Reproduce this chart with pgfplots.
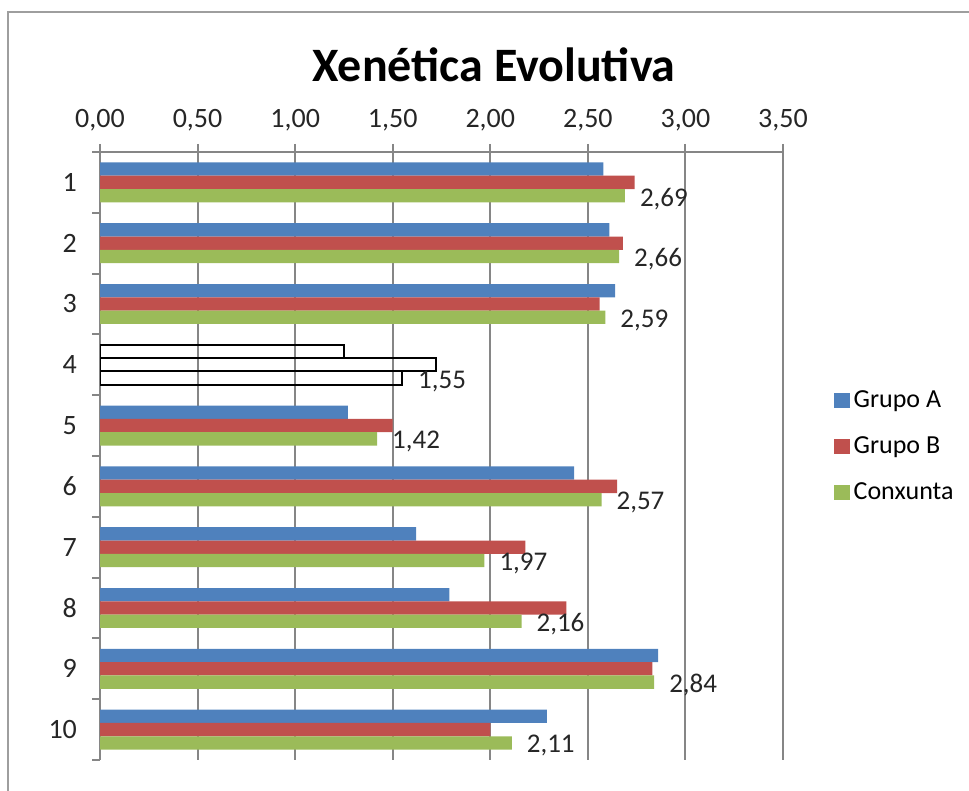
\documentclass[border=0pt]{standalone}
\usepackage{pgfplots}
\pgfplotsset{compat=1.18}
\usepackage{fontspec}
\setmainfont{Carlito}

\definecolor{grupoA}{HTML}{4F81BD}
\definecolor{grupoB}{HTML}{C0504D}
\definecolor{conx}{HTML}{9BBB59}
\definecolor{gridc}{HTML}{868686}

\pgfplotstableread{
cat A    B    C
1   2.58 2.74 2.69
2   2.61 2.68 2.66
3   2.64 2.56 2.59
5   1.27 1.50 1.42
6   2.43 2.65 2.57
7   1.62 2.18 1.97
8   1.79 2.39 2.16
9   2.86 2.83 2.84
10  2.29 2.00 2.11
}\datatable

\pgfplotstableread{
cat A    B    C
4   1.25 1.72 1.55
}\outlined

\begin{document}
\begin{tikzpicture}
\useasboundingbox (0,0) rectangle (484.5pt,395.5pt);
\draw[gridc!80, line width=1pt] (4pt,0) -- (4pt,389.5pt) -- (484.5pt,389.5pt);
\node[font=\fontsize{24}{28}\selectfont\bfseries] at (247pt,363pt) {Xenética Evolutiva};
\begin{axis}[
    at={(50pt,15.5pt)}, anchor=south west,
    scale only axis, width=341.5pt, height=304pt,
    xbar, bar width=6.65pt,
    xmin=0, xmax=3.5,
    ymin=0.5, ymax=10.5, y dir=reverse,
    axis x line*=top, axis y line*=left,
    axis line style={gridc, line width=1pt},
    xtick={0,0.5,...,3.5},
    xmajorgrids, grid style={gridc, line width=1pt},
    tick align=outside, major tick length=4pt,
    tick style={gridc, line width=1pt},
    ytick={0.5,1.5,...,10.5}, yticklabels={},
    extra y ticks={1,2,3,4,5,6,7,8,9,10},
    extra y tick labels={1,2,3,4,5,6,7,8,9,10},
    extra y tick style={major tick length=0pt},
    /pgf/number format/.cd, fixed, fixed zerofill, precision=2, use comma,
    /pgfplots/.cd,
    /pgf/number format/assume math mode=true,
    ticklabel style={font=\fontsize{14}{16}\selectfont, text=black!85},
    xticklabel style={yshift=3pt},
    yticklabel style={xshift=-8pt},
    legend style={at={(1.066,0.516)}, anchor=west, draw=none,
        font=\fontsize{13}{15}\selectfont, row sep=9pt},
    legend cell align=left,
    legend image code/.code={\fill[#1] (0pt,-3.8pt) rectangle (7.6pt,3.8pt);},
]
\addplot[fill=grupoA, draw=none, bar shift=6.65pt] table[x=A, y=cat] {\datatable};
\addplot[fill=grupoB, draw=none, bar shift=0pt] table[x=B, y=cat] {\datatable};
\addplot[fill=conx, draw=none, bar shift=-6.65pt,
    nodes near coords,
    every node near coord/.append style={font=\fontsize{13.5}{15}\selectfont, text=black!85, anchor=west, xshift=4pt, yshift=-1.5pt}
    ] table[x=C, y=cat] {\datatable};
% categoria 4: barras sen recheo
\addplot[fill=none, draw=black, line width=1pt, bar shift=6.65pt, forget plot] table[x=A, y=cat] {\outlined};
\addplot[fill=none, draw=black, line width=1pt, bar shift=0pt, forget plot] table[x=B, y=cat] {\outlined};
\addplot[fill=none, draw=black, line width=1pt, bar shift=-6.65pt, forget plot,
    nodes near coords,
    every node near coord/.append style={font=\fontsize{13.5}{15}\selectfont, text=black!85, anchor=west, xshift=4pt, yshift=-1.5pt}
    ] table[x=C, y=cat] {\outlined};
\legend{Grupo A, Grupo B, Conxunta}
\end{axis}
\end{tikzpicture}
\end{document}
